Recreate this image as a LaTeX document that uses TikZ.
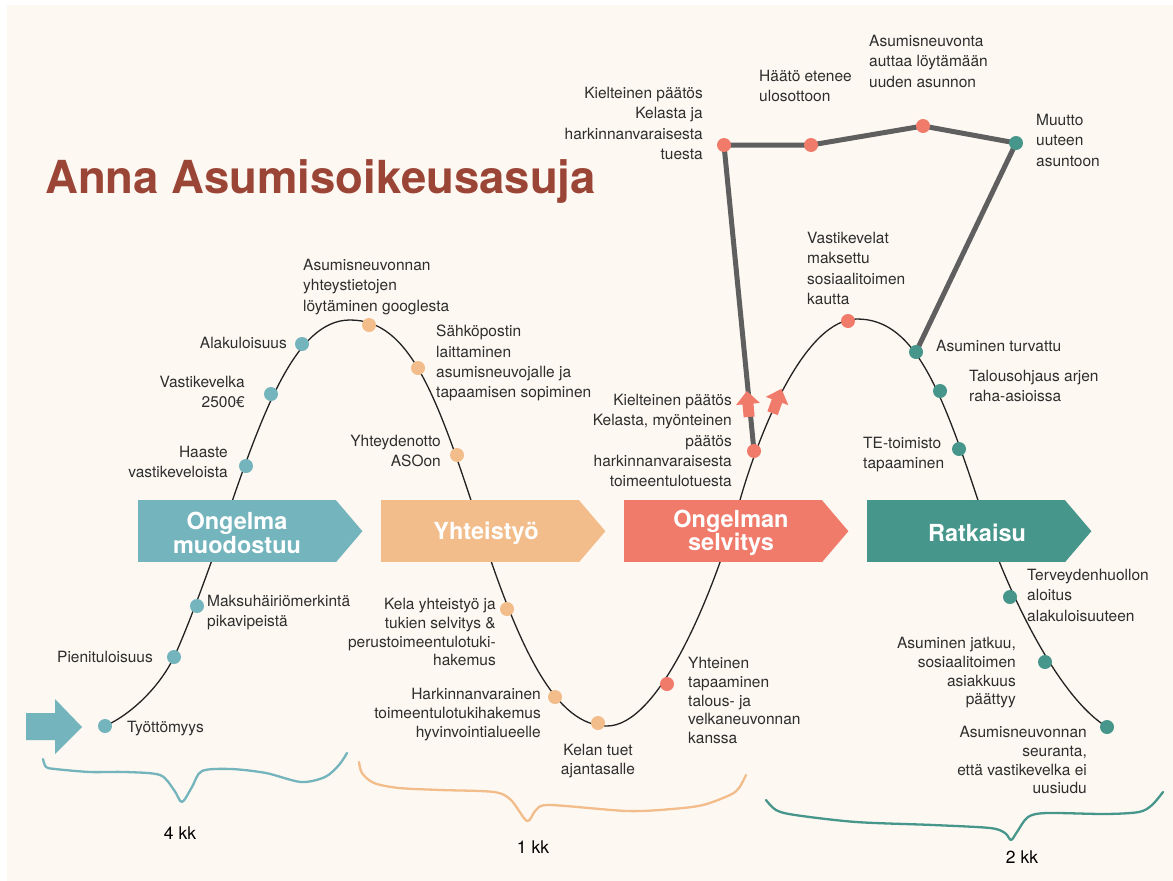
\documentclass[tikz,border=0pt]{standalone}
\usepackage{fontspec}
\setmainfont{TeX Gyre Heros}
\usetikzlibrary{calc}
\definecolor{cblue}{HTML}{74B4BC}
\definecolor{corange}{HTML}{F2BD8B}
\definecolor{cred}{HTML}{F07B6B}
\definecolor{cteal}{HTML}{47968B}
\definecolor{ctitle}{HTML}{9A4536}
\definecolor{cbg}{HTML}{FDF8F2}
\definecolor{cgrey}{HTML}{5F5F5F}
\definecolor{ctext}{HTML}{2E2E2E}
\definecolor{cline}{HTML}{222222}
\tikzset{
 dot/.style={circle, minimum size=14pt, inner sep=0pt, draw=none},
 lbl/.style={font=\fontsize{15.5}{20.3}\selectfont, text=ctext, inner sep=0pt},
 lbls/.style={font=\fontsize{15.5}{18.8}\selectfont, text=ctext, inner sep=0pt},
 durlbl/.style={font=\fontsize{17.5}{20}\selectfont, text=black, inner sep=0pt},
 boxlbl/.style={font=\bfseries\fontsize{23.5}{21.5}\selectfont, text=white, align=center, inner sep=0pt},
 chev/.style={minimum width=198pt, minimum height=62pt, inner sep=0pt, draw=none, anchor=north west},
 wave/.style={line width=1.3pt, color=cline},
 brace/.style={line width=2.3pt, line cap=round, line join=round},
 greyline/.style={line width=5pt, cgrey, line join=round},
 uparrow/.style={fill=cred},
}
\begin{document}
\begin{tikzpicture}[x=1pt,y=-1pt]
\useasboundingbox (0,0) rectangle (1173,881);
\fill[white] (0,0) rectangle (1173,881);
\fill[cbg] (7,5) rectangle (1173,881);

% wave key points
\coordinate (w0) at (105,726);
\coordinate (wa) at (174,657);
\coordinate (wb) at (222,531);
\coordinate (wc) at (350,320);
\coordinate (wd) at (481,531);
\coordinate (we) at (607,726);
\coordinate (wf) at (740,500);
\coordinate (wg) at (857,319);
\coordinate (wh) at (988,531);
\coordinate (wi) at (1107,727);

\draw[wave] (w0) .. controls (130,715) and (159,688) .. (wa)
  .. controls (186,632) and (210,567) .. (wb)
  .. controls (262,413) and (295,320) .. (wc)
  .. controls (410,320) and (437,395) .. (wd)
  .. controls (521,654) and (557,726) .. (we)
  .. controls (657,726) and (710,605) .. (wf)
  .. controls (760,430) and (805,319) .. (wg)
  .. controls (917,319) and (944,395) .. (wh)
  .. controls (998,563) and (1050,692) .. (wi);

% dot positions
\coordinate (p4) at (197,606);
\coordinate (p5) at (246,466);
\coordinate (p6) at (271,394);
\coordinate (p7) at (302,344);
\coordinate (p8) at (369,325);
\coordinate (p9) at (418,368);
\coordinate (p10) at (457,455);
\coordinate (p11) at (507,609);
\coordinate (p12) at (555,697);
\coordinate (p13) at (598,723);
\coordinate (p14) at (667,684);
\coordinate (p15) at (754,451);
\coordinate (p16) at (848,321);
\coordinate (p17) at (916,352);
\coordinate (p18) at (940,391);
\coordinate (p19) at (959,449);
\coordinate (p20) at (1010,597);
\coordinate (p21) at (1045,662);

% top path coordinates
\coordinate (k1) at (724,145);
\coordinate (k2) at (811,145);
\coordinate (k3) at (923,126);
\coordinate (k4) at (1016,143);
\draw[greyline] (p15) -- (k1) -- (k2) -- (k3) -- (k4) -- (p17);

% small up arrows
\fill[uparrow, shift={(748,404)}, rotate=5] (0,-13) -- (12,0) -- (5.5,0) -- (5.5,13) -- (-5.5,13) -- (-5.5,0) -- (-12,0) -- cycle;
\fill[uparrow, shift={(777,401)}, rotate=-20] (0,-13) -- (12,0) -- (5.5,0) -- (5.5,13) -- (-5.5,13) -- (-5.5,0) -- (-12,0) -- cycle;

% big start arrow
\fill[cblue] (26,713) -- (55,713) -- (55,699) -- (82,727) -- (55,754) -- (55,740) -- (26,740) -- cycle;

% chevrons
\node[chev, fill=cblue] (b1) at (138,500) {};
\node[chev, fill=corange] (b2) at (381,500) {};
\node[chev, fill=cred] (b3) at (624,500) {};
\node[chev, fill=cteal] (b4) at (867,500) {};
\fill[cblue] ($(b1.north east)+(-0.6,0)$) -- ($(b1.east)+(26,0)$) -- ($(b1.south east)+(-0.6,0)$) -- cycle;
\fill[corange] ($(b2.north east)+(-0.6,0)$) -- ($(b2.east)+(26,0)$) -- ($(b2.south east)+(-0.6,0)$) -- cycle;
\fill[cred] ($(b3.north east)+(-0.6,0)$) -- ($(b3.east)+(26,0)$) -- ($(b3.south east)+(-0.6,0)$) -- cycle;
\fill[cteal] ($(b4.north east)+(-0.6,0)$) -- ($(b4.east)+(26,0)$) -- ($(b4.south east)+(-0.6,0)$) -- cycle;
\node[boxlbl] (t1) at (237,533) {Ongelma\\muodostuu};
\node[boxlbl] (t2) at (486,533) {Yhteistyö};
\node[boxlbl] (t3) at (731,533) {Ongelman\\selvitys};
\node[boxlbl] (t4) at (977,533) {Ratkaisu};

% dots
\node[dot, fill=cblue] (d1) at (w0) {};
\node[dot, fill=cblue] (d2) at (wa) {};
\node[dot, fill=cblue] (d3) at (p4) {};
\node[dot, fill=cblue] (d4) at (p5) {};
\node[dot, fill=cblue] (d5) at (p6) {};
\node[dot, fill=cblue] (d6) at (p7) {};
\node[dot, fill=corange] (d7) at (p8) {};
\node[dot, fill=corange] (d8) at (p9) {};
\node[dot, fill=corange] (d9) at (p10) {};
\node[dot, fill=corange] (d10) at (p11) {};
\node[dot, fill=corange] (d11) at (p12) {};
\node[dot, fill=corange] (d12) at (p13) {};
\node[dot, fill=cred] (d13) at (p14) {};
\node[dot, fill=cred] (d14) at (p15) {};
\node[dot, fill=cred] (d15) at (p16) {};
\node[dot, fill=cred] (d16) at (k1) {};
\node[dot, fill=cred] (d17) at (k2) {};
\node[dot, fill=cred] (d18) at (k3) {};
\node[dot, fill=cteal] (d19) at (k4) {};
\node[dot, fill=cteal] (d20) at (p17) {};
\node[dot, fill=cteal] (d21) at (p18) {};
\node[dot, fill=cteal] (d22) at (p19) {};
\node[dot, fill=cteal] (d23) at (p20) {};
\node[dot, fill=cteal] (d24) at (p21) {};
\node[dot, fill=cteal] (d25) at (wi) {};

% title
\node[font=\bfseries\fontsize{45.5}{50}\selectfont, text=ctitle, anchor=base west, inner sep=0pt] (title) at (45,193) {Anna Asumisoikeusasuja};

% labels top
\node[lbl, anchor=north east, align=right] (l1) at (703,87) {Kielteinen päätös\\Kelasta ja\\harkinnanvaraisesta\\tuesta};
\node[lbl, anchor=north west, align=left] (l2) at (759,70) {Häätö etenee\\ulosottoon};
\node[lbl, anchor=north west, align=left] (l3) at (869,35) {Asumisneuvonta\\auttaa löytämään\\uuden asunnon};
\node[lbl, anchor=north west, align=left] (l4) at (1036,114) {Muutto\\uuteen\\asuntoon};
\node[lbl, anchor=north west, align=left] (l5) at (303,259) {Asumisneuvonnan\\yhteystietojen\\löytäminen googlesta};
\node[lbl, anchor=north east] (l6) at (287,337) {Alakuloisuus};
\node[lbl, anchor=north east, align=right] (l7) at (245,376) {Vastikevelka\\2500€};
\node[lbl, anchor=north east, align=right] (l8) at (228,446) {Haaste\\vastikeveloista};
\node[lbl, anchor=north west, align=left] (l9) at (436,325) {Sähköpostin\\laittaminen\\asumisneuvojalle ja\\tapaamisen sopiminen};
\node[lbl, anchor=north east, align=right] (l10) at (441,435) {Yhteydenotto\\ASOon};
\node[lbl, anchor=north west, align=left] (l11) at (807,232) {Vastikevelat\\maksettu\\sosiaalitoimen\\kautta};
\node[lbl, anchor=north west] (l12) at (936,340) {Asuminen turvattu};
\node[lbl, anchor=north west, align=left] (l13) at (969,370) {Talousohjaus arjen\\raha-asioissa};
\node[lbl, anchor=north east, align=right] (l14) at (732,394) {Kielteinen päätös\\Kelasta, myönteinen\\päätös\\harkinnanvaraisesta\\toimeentulotuesta};
\node[lbl, anchor=north west, align=left] (l15) at (863,437) {TE-toimisto\\tapaaminen};

% labels bottom
\node[lbl, anchor=north west, align=left] (l16) at (207,595) {Maksuhäiriömerkintä\\pikavipeistä};
\node[lbl, anchor=north east] (l17) at (153,651) {Pienituloisuus};
\node[lbl, anchor=north west] (l18) at (127,721) {Työttömyys};
\node[lbls, anchor=north east, align=right] (l19) at (496,598) {Kela yhteistyö ja\\tukien selvitys \&\\perustoimeentulotuki-\\hakemus};
\node[lbls, anchor=north east, align=right] (l20) at (541,688) {Harkinnanvarainen\\toimeentulotukihakemus\\hyvinvointialueelle};
\node[lbls, anchor=north, align=center] (l21) at (598,744) {Kelan tuet\\ajantasalle};
\node[lbls, anchor=north west, align=left] (l22) at (688,657) {Yhteinen\\tapaaminen\\talous- ja\\velkaneuvonnan\\kanssa};
\node[lbl, anchor=north west, align=left] (l23) at (1027,569) {Terveydenhuollon\\aloitus\\alakuloisuuteen};
\node[lbls, anchor=north east, align=right] (l24) at (1016,637) {Asuminen jatkuu,\\sosiaalitoimen\\asiakkuus\\päättyy};
\node[lbls, anchor=north east, align=right] (l25) at (1087,726) {Asumisneuvonnan\\seuranta,\\että vastikevelka ei\\uusiudu};

% braces
\draw[brace, cblue] plot[smooth, tension=0.5] coordinates {(43,759) (46,767) (55,769) (90,772) (125,772) (160,775) (174,790) (182,802) (192,787) (202,771) (231,769) (266,773) (301,782) (325,777) (339,765) (347,753)};
\draw[brace, corange] plot[smooth, tension=0.5] coordinates {(359,762) (362,773) (374,783) (399,788) (441,790) (494,792) (511,800) (527,821) (536,810) (550,805) (627,811) (672,809) (703,805) (730,795) (739,788) (746,775)};
\draw[brace, cteal] plot[smooth, tension=0.5] coordinates {(766,800) (776,810) (795,815) (856,822) (933,825) (990,828) (1005,833) (1011,840) (1017,832) (1028,817) (1047,813) (1105,814) (1139,812) (1152,805) (1163,792)};

% durations
\node[durlbl] (k4kk) at (180,833) {4 kk};
\node[durlbl] (k1kk) at (533,847) {1 kk};
\node[durlbl] (k2kk) at (1022,857) {2 kk};
\end{tikzpicture}
\end{document}
